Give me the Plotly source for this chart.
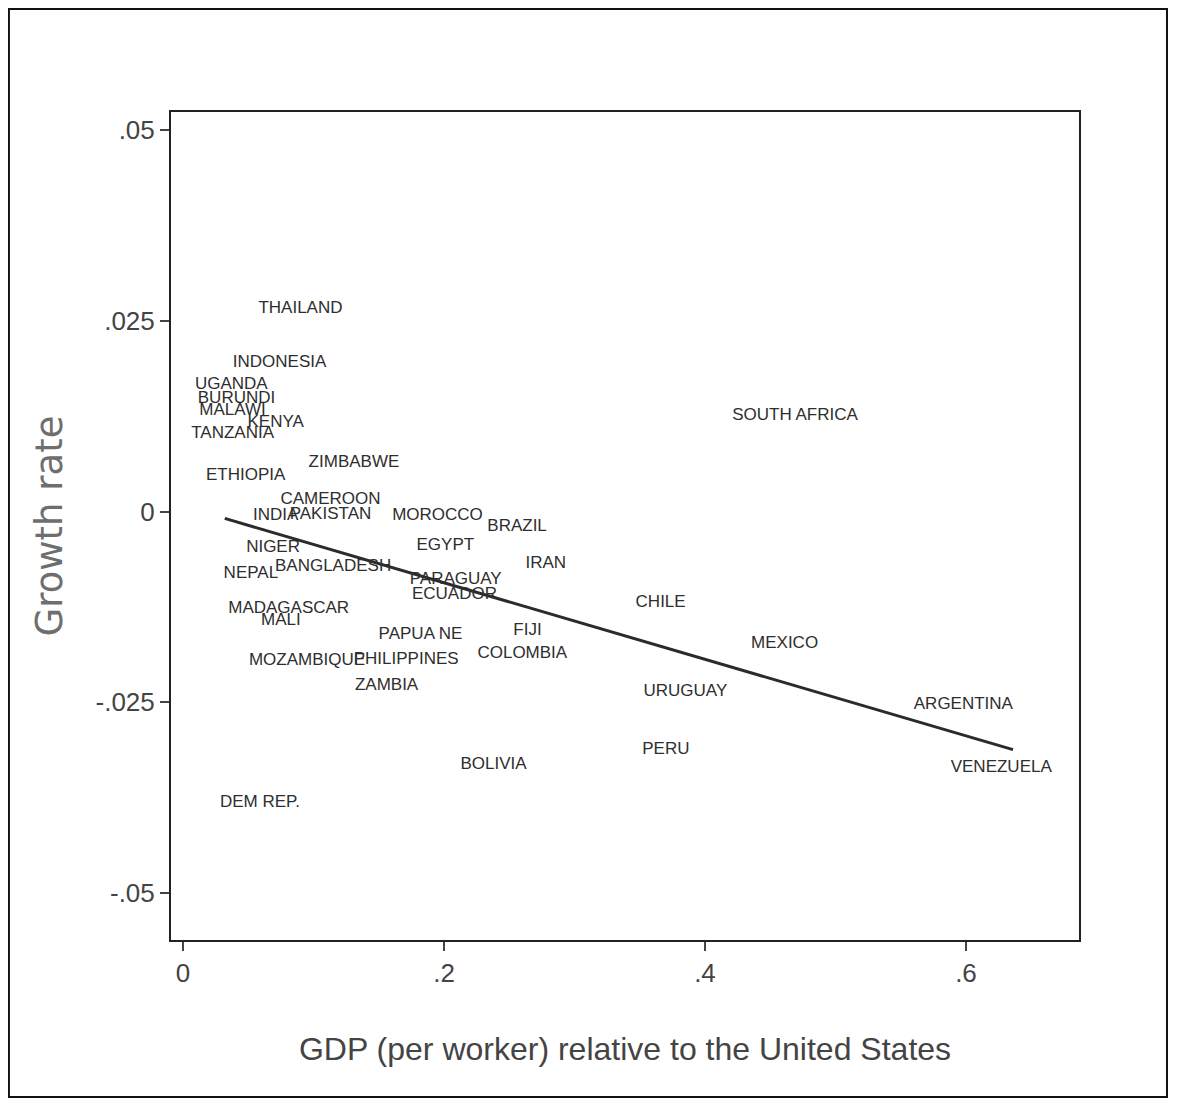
import plotly.graph_objects as go

countries = ["THAILAND", "INDONESIA", "UGANDA", "BURUNDI", "MALAWI", "KENYA", "TANZANIA",
             "ETHIOPIA", "ZIMBABWE", "CAMEROON", "INDIA", "PAKISTAN", "MOROCCO", "BRAZIL",
             "EGYPT", "IRAN", "NIGER", "BANGLADESH", "NEPAL", "PARAGUAY", "ECUADOR",
             "MADAGASCAR", "MALI", "PAPUA NE", "FIJI", "COLOMBIA", "MOZAMBIQUE",
             "PHILIPPINES", "ZAMBIA", "CHILE", "MEXICO", "SOUTH AFRICA", "URUGUAY", "PERU",
             "BOLIVIA", "ARGENTINA", "VENEZUELA", "DEM REP."]
gdp_rel = [0.090, 0.074, 0.037, 0.041, 0.038, 0.071, 0.038,
           0.048, 0.131, 0.113, 0.071, 0.113, 0.195, 0.256,
           0.201, 0.278, 0.069, 0.115, 0.052, 0.209, 0.208,
           0.081, 0.075, 0.182, 0.264, 0.260, 0.095,
           0.171, 0.156, 0.366, 0.461, 0.469, 0.385, 0.370,
           0.238, 0.598, 0.627, 0.059]
growth = [0.0266, 0.0195, 0.0166, 0.0148, 0.0132, 0.0116, 0.0102,
          0.0047, 0.0064, 0.0016, -0.0005, -0.0004, -0.0005, -0.0020,
          -0.0045, -0.0069, -0.0047, -0.0073, -0.0081, -0.0090, -0.0109,
          -0.0127, -0.0143, -0.0162, -0.0156, -0.0186, -0.0196,
          -0.0194, -0.0229, -0.0120, -0.0174, 0.0126, -0.0236, -0.0313,
          -0.0332, -0.0254, -0.0336, -0.0382]

fit_intercept = 0.0007
fit_slope = -0.0502
fit_x = [0.032, 0.636]
fit_y = [fit_intercept + fit_slope * v for v in fit_x]

x_ticks = [0, 0.2, 0.4, 0.6]
x_tick_labels = ["0", ".2", ".4", ".6"]
y_ticks = [0.05, 0.025, 0, -0.025, -0.05]
y_tick_labels = [".05", ".025", "0", "-.025", "-.05"]

sans = "Liberation Sans, Arial, sans-serif"

fig = go.Figure()
fig.add_trace(go.Scatter(
    x=fit_x, y=fit_y, mode="lines",
    line=dict(color="#2b2b2b", width=3), hoverinfo="skip", showlegend=False))
fig.add_trace(go.Scatter(
    x=gdp_rel, y=growth, mode="text", text=countries,
    textposition="middle center",
    textfont=dict(family=sans, size=17, color="#2e2e2e"),
    showlegend=False))

fig.update_layout(
    width=1162, height=1092,
    margin=dict(l=163, r=91, t=104, b=160),
    paper_bgcolor="white", plot_bgcolor="white",
    xaxis=dict(range=[-0.0092, 0.6866], tickvals=x_ticks, ticktext=x_tick_labels,
               showgrid=False, zeroline=False, showline=True, mirror=True,
               linecolor="#222", linewidth=2, ticks="outside", ticklen=9,
               tickwidth=2, tickcolor="#444",
               tickfont=dict(family=sans, size=26, color="#444"),
               title=dict(text="GDP (per worker) relative to the United States",
                          font=dict(family=sans, size=32, color="#444"),
                          standoff=50)),
    yaxis=dict(range=[-0.0562, 0.0524], tickvals=y_ticks, ticktext=y_tick_labels,
               showgrid=False, zeroline=False, showline=True, mirror=True,
               linecolor="#222", linewidth=2, ticks="outside", ticklen=9,
               tickwidth=2, tickcolor="#444",
               tickfont=dict(family=sans, size=26, color="#444"),
               title=dict(text="Growth rate",
                          font=dict(family="DejaVu Sans, Verdana, sans-serif", size=37, color="#6e6e6e"),
                          standoff=22)),
    shapes=[dict(type="rect", xref="paper", yref="paper",
                 x0=-0.1785, x1=1.0969, y0=-0.1896, y1=1.1245,
                 line=dict(color="#111", width=2))],
)

fig.write_html("out.html")
